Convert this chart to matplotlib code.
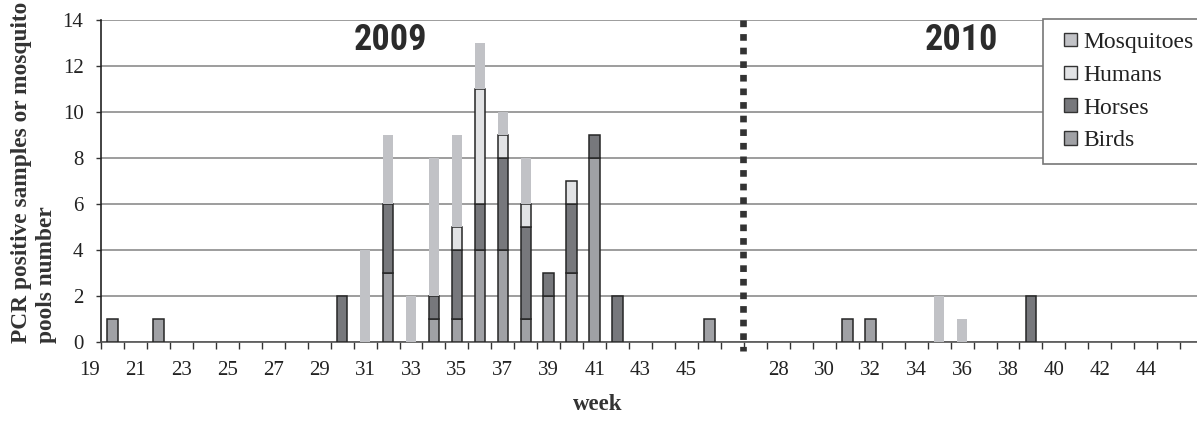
import matplotlib
matplotlib.use("Agg")
import matplotlib.pyplot as plt
from matplotlib.patches import Patch, Rectangle
from matplotlib.legend_handler import HandlerPatch
from matplotlib import font_manager

# weeks shown on the category axis
weeks_2009 = list(range(20, 47))
weeks_2010 = list(range(27, 47))

# 2009, weeks 20..46
birds_2009 = [1, 0, 1, 0, 0, 0, 0, 0, 0, 0, 0, 0, 3, 0, 1, 1, 4, 4, 1, 2, 3, 8, 0, 0, 0, 0, 1]
horses_2009 = [0, 0, 0, 0, 0, 0, 0, 0, 0, 0, 2, 0, 3, 0, 1, 3, 2, 4, 4, 1, 3, 1, 2, 0, 0, 0, 0]
humans_2009 = [0, 0, 0, 0, 0, 0, 0, 0, 0, 0, 0, 0, 0, 0, 0, 1, 5, 1, 1, 0, 1, 0, 0, 0, 0, 0, 0]
mosq_2009 = [0, 0, 0, 0, 0, 0, 0, 0, 0, 0, 0, 4, 3, 2, 6, 4, 2, 1, 2, 0, 0, 0, 0, 0, 0, 0, 0]

# 2010, weeks 27..46
birds_2010 = [0, 0, 0, 0, 1, 1, 0, 0, 0, 0, 0, 0, 0, 0, 0, 0, 0, 0, 0, 0]
horses_2010 = [0, 0, 0, 0, 0, 0, 0, 0, 0, 0, 0, 0, 2, 0, 0, 0, 0, 0, 0, 0]
humans_2010 = [0] * 20
mosq_2010 = [0, 0, 0, 0, 0, 0, 0, 0, 2, 1, 0, 0, 0, 0, 0, 0, 0, 0, 0, 0]

labels_2009 = list(range(21, 46, 2))
labels_2010 = list(range(28, 45, 2))
series_names = ["Birds", "Horses", "Humans", "Mosquitoes"]
colors = {"Birds": "#a0a1a5", "Horses": "#77787c", "Humans": "#e2e3e5", "Mosquitoes": "#c1c2c6"}
edges = {"Birds": "#262626", "Horses": "#262626", "Humans": "#262626", "Mosquitoes": "none"}

plt.rcParams["font.family"] = ["Liberation Serif", "DejaVu Serif"]

# a narrow bold sans for the year captions, if one is installed
installed = {f.name for f in font_manager.fontManager.ttflist}
year_font = [f for f in ["Liberation Sans Narrow", "Roboto Condensed", "Arial Narrow",
                         "DejaVu Sans Condensed", "Roboto"] if f in installed] or ["DejaVu Sans"]


def slot_2009(w):
    return w - 20 + 0.5


def slot_2010(w):
    return w + 1 + 0.5


def square_handle(legend, orig_handle, xdescent, ydescent, width, height, fontsize):
    # small square pushed to the right end of the handle box
    return Rectangle((width - height - xdescent, -ydescent), height, height)


fig = plt.figure(figsize=(11.97, 4.30), dpi=100)
ax = fig.add_axes([101 / 1197, 1 - 341.7 / 430, 1 - 101 / 1197, 321.7 / 430])

for weeks, slot, data in [
    (weeks_2009, slot_2009, [birds_2009, horses_2009, humans_2009, mosq_2009]),
    (weeks_2010, slot_2010, [birds_2010, horses_2010, humans_2010, mosq_2010]),
]:
    bottom = [0] * len(weeks)
    for name, vals in zip(series_names, data):
        xs = [slot(w) for w, v in zip(weeks, vals) if v > 0]
        hs = [v for v in vals if v > 0]
        bs = [b for b, v in zip(bottom, vals) if v > 0]
        ax.bar(xs, hs, bottom=bs, width=0.46, color=colors[name],
               edgecolor=edges[name], linewidth=1.1, zorder=3)
        bottom = [b + v for b, v in zip(bottom, vals)]

ax.set_xlim(0, 47.73)
ax.set_ylim(0, 14)
ax.set_yticks(range(0, 15, 2))
ax.yaxis.grid(True, color="#8c8c8c", linewidth=1.2)
ax.set_axisbelow(True)

ax.set_xticks([slot_2009(w) for w in labels_2009] + [slot_2010(w) for w in labels_2010])
ax.set_xticklabels([str(w) for w in labels_2009] + [str(w) for w in labels_2010])
ax.set_xticks(range(0, 48), minor=True)
ax.tick_params(axis="x", which="major", length=0, pad=14, labelsize=15, labelcolor="#222222")
ax.tick_params(axis="x", which="minor", length=4.8, width=1.0, color="#333333")
ax.tick_params(axis="y", length=3.6, width=1.0, pad=9, labelsize=15, labelcolor="#222222", color="#333333")
ax.annotate("19", xy=(slot_2009(19), 0), xycoords=("data", "axes fraction"),
            xytext=(0, -14), textcoords="offset points", ha="center", va="top",
            fontsize=15, color="#222222", annotation_clip=False)

for side in ["top", "right"]:
    ax.spines[side].set_visible(False)
ax.spines["left"].set_color("#222222")
ax.spines["bottom"].set_color("#555555")
ax.spines["left"].set_linewidth(1.2)
ax.spines["bottom"].set_linewidth(1.2)

# dotted divider between the two seasons
ax.plot([27.95, 27.95], [1.0, -0.03], transform=ax.get_xaxis_transform(),
        color="#333333", linewidth=4.8, dashes=(1, 1.04), clip_on=False, zorder=4)

ax.text(0.2637, 0.939, "2009", transform=ax.transAxes, ha="center", va="center",
        fontsize=26, fontweight="bold", family=year_font, color="#2b2b2b")
ax.text(0.7847, 0.939, "2010", transform=ax.transAxes, ha="center", va="center",
        fontsize=26, fontweight="bold", family=year_font, color="#2b2b2b")

handles = [Patch(facecolor=colors[n], edgecolor="#333333", linewidth=1.0)
           for n in series_names[::-1]]
leg = ax.legend(handles, series_names[::-1], loc="upper left",
                bbox_to_anchor=(1043 / 1197, 1 - 19 / 430, 0.2, 0),
                bbox_transform=fig.transFigure, mode="expand", fontsize=17,
                handlelength=0.9, handleheight=0.5, handletextpad=0.28,
                labelspacing=0.5, borderpad=0.55, borderaxespad=0,
                fancybox=False, framealpha=1,
                handler_map={Patch: HandlerPatch(patch_func=square_handle)})
leg.get_frame().set_edgecolor("#777777")
leg.get_frame().set_linewidth(1.2)
for t in leg.get_texts():
    t.set_color("#222222")

fig.text(34 / 1197, 1 - 343 / 430, "PCR positive samples or mosquito\npools number",
         rotation=90, ha="center", va="bottom", multialignment="left",
         fontsize=16.8, fontweight="bold", color="#333333")
fig.text(598 / 1197, 1 - 405 / 430, "week", ha="center", va="center",
         fontsize=16.5, fontweight="bold", color="#333333")

fig.savefig("out.png", dpi=100)
